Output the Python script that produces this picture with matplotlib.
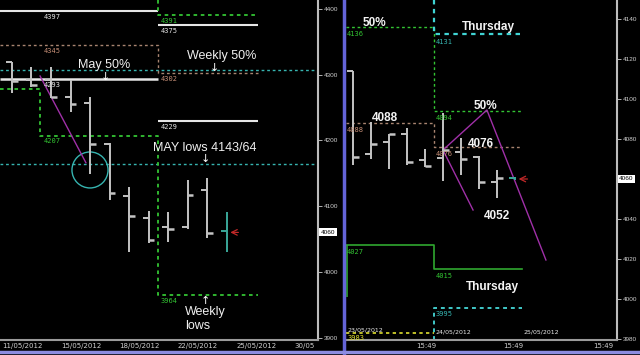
import matplotlib.pyplot as plt
from matplotlib.patches import Ellipse
from matplotlib.lines import Line2D

# ---- left panel: daily bars (SPI) ----
left_open = [4319, 4292, 4292, 4266, 4257, 4195, 4115, 4082, 4068, 4068, 4125, 4062]
left_high = [4319, 4312, 4312, 4292, 4266, 4196, 4129, 4093, 4091, 4140, 4143, 4091]
left_low = [4272, 4281, 4264, 4243, 4149, 4109, 4030, 4044, 4045, 4065, 4051, 4030]
left_close = [4290, 4284, 4266, 4255, 4195, 4120, 4085, 4048, 4065, 4117, 4059, 4060]
left_dates = ['11/05/2012', '15/05/2012', '18/05/2012', '22/05/2012', '25/05/2012', '30/05']
left_date_pos = [-0.5, 2.5, 5.5, 8.5, 11.5, 14.5]
left_yticks = [3900, 4000, 4100, 4200, 4300, 4400]

# weekly / monthly levels, left panel
left_week_start = 7.5
left_week_end = 12.6
left_prev_high, left_cur_high = 4397, 4375
left_green_high = 4391
left_brown = [4345, 4302]
left_prev_mid, left_cur_mid = 4293, 4229
left_green_low = [4278, 4207, 3964]
left_green_low_break = 1.44
left_teal = [4307, 4164]

# ---- right panel: intraday bars ----
right_open = [4114, 4072.5, 4078.5, 4082.5, 4069.5, 4070.5, 4073.5, 4071, 4058.5, 4060.5]
right_high = [4114, 4088.5, 4082.5, 4085.5, 4075, 4093, 4080.5, 4071.5, 4064.5, 4061]
right_low = [4067, 4070, 4065, 4067, 4066, 4059, 4062, 4055, 4050.5, 4059.5]
right_close = [4071, 4077.5, 4082.5, 4068.5, 4066.5, 4074.5, 4070, 4058.5, 4060.5, 4060]
right_yticks = [3980, 4000, 4020, 4040, 4060, 4080, 4100, 4120, 4140]
right_time_pos = [4.06, 8.9, 13.9]
right_time_labels = ['15:49', '15:49', '15:49']

right_day_start = 4.5
right_day_end = 9.39
right_green_high = [4136, 4094]
right_teal_high = 4131
right_brown = [4088, 4076]
right_green_low = [4027, 4015]
right_teal_low = 3995
right_yellow = 3983

# trend lines drawn by hand on the chart
left_trend_x = [1.44, 3.79]
left_trend_y = [4298, 4166]
right_trend1_x = [5.0, 7.44, 10.72]
right_trend1_y = [4074.5, 4094.5, 4019.5]
right_trend2_x = [5.0, 6.67]
right_trend2_y = [4074.5, 4044.5]

last_price = 4060

GREEN = '#33c433'
TEAL = '#36b4b0'
BROWN = '#a88470'
WHITE = '#e6e6e6'
BAR = '#c4c4c4'
CUR = '#3aa89a'
MAG = '#a030a8'


def draw_ohlc(ax, o, h, l, c, tick):
    n = len(o)
    for i in range(n):
        col = CUR if i == n - 1 else BAR
        ax.vlines(i, l[i], h[i], color=col, lw=1.4)
        ax.hlines(o[i], i - tick, i, color=col, lw=1.4)
        if i < n - 1:
            ax.hlines(c[i], i, i + tick, color=col, lw=1.8)


def step(ax, xs, ys, **kw):
    px, py = [], []
    for k in range(len(ys)):
        px += [xs[k], xs[k + 1]]
        py += [ys[k], ys[k]]
    ax.plot(px, py, **kw)


def style_axis(ax, yticks):
    ax.set_facecolor('black')
    for s in ['top', 'left']:
        ax.spines[s].set_visible(False)
    ax.spines['right'].set_color('#bdbdbd')
    ax.spines['bottom'].set_color('#9a9a9a')
    ax.spines['right'].set_linewidth(1.5)
    ax.spines['bottom'].set_linewidth(1.5)
    ax.yaxis.tick_right()
    ax.set_yticks(yticks)
    # the live price box covers the 4060 label
    ax.set_yticklabels(['' if t == last_price else str(t) for t in yticks],
                       family='Liberation Sans')
    ax.tick_params(axis='y', colors='#d0d0d0', labelsize=4.6, length=3, width=0.6, pad=1.5)
    ax.tick_params(axis='x', colors='#d0d0d0', labelsize=5, length=0, pad=2)


lbl = dict(family='DejaVu Sans Mono', fontsize=5)
txt = dict(family='Liberation Sans', fontsize=9, color='#f0f0f0')
btxt = dict(family='Liberation Sans', fontsize=8.5, color='#f4f4f4', fontweight='bold')
dots = (0, (2, 2))
pbox = dict(boxstyle='square,pad=0.25', fc='white', ec='none')

fig = plt.figure(figsize=(6.4, 3.55), dpi=100, facecolor='black')

# ================= left panel =================
ax1 = fig.add_axes([0, 15 / 355, 318 / 640, 340 / 355])
style_axis(ax1, left_yticks)
x0, x1 = -0.615, 15.69
ax1.set_xlim(x0, x1)
ax1.set_ylim(3896.2, 4413.7)
ax1.set_xticks(left_date_pos)
ax1.set_xticklabels(left_dates, ha='left')

ax1.hlines(left_teal, x0, x1, color=TEAL, lw=1, linestyles=dots)
ax1.hlines(left_prev_high, x0, left_week_start, color=WHITE, lw=1.5)
ax1.hlines(left_cur_high, left_week_start, left_week_end, color=WHITE, lw=1.5)
ax1.hlines(left_prev_mid, x0, left_week_start, color=WHITE, lw=1.8)
ax1.hlines(left_cur_mid, left_week_start, left_week_end, color=WHITE, lw=1.5)
ax1.plot([left_week_start, left_week_start, left_week_end],
         [4413.7, left_green_high, left_green_high], color=GREEN, lw=1.3, ls=dots)
step(ax1, [x0, left_week_start, left_week_end], left_brown, color=BROWN, lw=1, ls=dots)
step(ax1, [x0, left_green_low_break, left_week_start, left_week_end], left_green_low,
     color=GREEN, lw=1.3, ls=dots)

ax1.text(1.6, left_prev_high - 4, str(left_prev_high), color=WHITE, va='top', **lbl)
ax1.text(1.6, left_brown[0] - 4, str(left_brown[0]), color='#c89078', va='top', **lbl)
ax1.text(1.6, left_prev_mid - 4, str(left_prev_mid), color=WHITE, va='top', **lbl)
ax1.text(1.6, left_green_low[1] - 4, str(left_green_low[1]), color=GREEN, va='top', **lbl)
ax1.text(7.6, left_green_high - 4, str(left_green_high), color=GREEN, va='top', **lbl)
ax1.text(7.6, left_cur_high - 4, str(left_cur_high), color=WHITE, va='top', **lbl)
ax1.text(7.6, left_brown[1] - 4, str(left_brown[1]), color='#c89078', va='top', **lbl)
ax1.text(7.6, left_cur_mid - 4, str(left_cur_mid), color=WHITE, va='top', **lbl)
ax1.text(7.6, left_green_low[2] - 4, str(left_green_low[2]), color=GREEN, va='top', **lbl)

ax1.plot(left_trend_x, left_trend_y, color=MAG, lw=1)
ax1.add_patch(Ellipse((4.0, 4155), 1.85, 54.8, fill=False, ec=TEAL, lw=1))
draw_ohlc(ax1, left_open, left_high, left_low, left_close, 0.3)

ax1.text(4.72, 4315, 'May 50%', ha='center', va='center', **txt)
ax1.text(4.77, 4297, '↓', ha='center', va='center', color='white', fontsize=8)
ax1.text(10.77, 4328, 'Weekly 50%', ha='center', va='center', **txt)
ax1.text(10.4, 4311, '↓', ha='center', va='center', color='white', fontsize=8)
ax1.text(9.9, 4188, 'MAY lows 4143/64', ha='center', va='center', **txt)
ax1.text(9.9, 4171, '↓', ha='center', va='center', color='white', fontsize=8)
ax1.text(9.9, 3956, '↑', ha='center', va='center', color='white', fontsize=8)
ax1.text(8.87, 3939, 'Weekly', ha='left', va='center', **txt)
ax1.text(8.87, 3917, 'lows', ha='left', va='center', **txt)
ax1.annotate('', xy=(11.05, last_price), xytext=(11.75, last_price),
             arrowprops=dict(arrowstyle='->', color='#c02828', lw=0.9))
ax1.text(1.008, last_price, str(last_price), transform=ax1.get_yaxis_transform(),
         ha='left', va='center', fontsize=4.6, family='Liberation Sans', color='black',
         clip_on=False, bbox=pbox)

# ================= right panel =================
ax2 = fig.add_axes([346 / 640, 15 / 355, 271 / 640, 340 / 355])
style_axis(ax2, right_yticks)
r0, r1 = -0.39, 14.67
ax2.set_xlim(r0, r1)
ax2.set_ylim(3979.5, 4149.5)
ax2.set_xticks(right_time_pos)
ax2.set_xticklabels(right_time_labels)

step(ax2, [r0, right_day_start, right_day_end], right_green_high, color=GREEN, lw=1, ls=dots)
ax2.plot([right_day_start, right_day_start, right_day_end],
         [4149.5, right_teal_high + 1.5, right_teal_high + 1.5], color='#40d4d4', lw=1.6, ls=dots)
step(ax2, [r0, right_day_start, right_day_end], right_brown, color=BROWN, lw=1, ls=dots)
step(ax2, [r0, right_day_start, right_day_end], right_green_low, color='#2fa82f', lw=1.2)
ax2.vlines(r0 + 0.04, 4001, right_green_low[0], color='#2fa82f', lw=1.2)
ax2.plot([right_day_start, right_day_start, right_day_end],
         [3979.5, right_teal_low + 0.5, right_teal_low + 0.5], color='#40c8c8', lw=1.4, ls=dots)
ax2.hlines(right_yellow, r0, right_day_start, color='#e0e030', lw=1.2, linestyles=dots)

ax2.text(-0.33, right_green_high[0] - 2, str(right_green_high[0]), color=GREEN, va='top', **lbl)
ax2.text(-0.33, right_brown[0] - 2, str(right_brown[0]), color='#c89078', va='top', **lbl)
ax2.text(-0.33, right_green_low[0] - 2, str(right_green_low[0]), color=GREEN, va='top', **lbl)
ax2.text(4.6, right_teal_high - 1, str(right_teal_high), color=TEAL, va='top', **lbl)
ax2.text(4.6, right_green_high[1] - 2, str(right_green_high[1]), color=GREEN, va='top', **lbl)
ax2.text(4.6, right_brown[1] - 2, str(right_brown[1]), color='#c89078', va='top', **lbl)
ax2.text(4.6, right_green_low[1] - 2, str(right_green_low[1]), color=GREEN, va='top', **lbl)
ax2.text(4.6, right_teal_low - 1, str(right_teal_low), color=TEAL, va='top', **lbl)
ax2.text(-0.33, right_yellow - 1, str(right_yellow), color='#e0e030', va='top', **lbl)
ax2.text(-0.33, 3983.5, '23/05/2012', color='#e8e8e8', va='bottom', fontsize=4.5)
ax2.text(4.6, 3982, '24/05/2012', color='#e8e8e8', va='bottom', fontsize=4.5)
ax2.text(9.5, 3982, '25/05/2012', color='#e8e8e8', va='bottom', fontsize=4.5)

ax2.plot(right_trend1_x, right_trend1_y, color=MAG, lw=1)
ax2.plot(right_trend2_x, right_trend2_y, color=MAG, lw=1)
draw_ohlc(ax2, right_open, right_high, right_low, right_close, 0.33)

ax2.text(1.17, 4138, '50%', ha='center', va='center', **btxt)
ax2.text(6.06, 4136, 'Thursday', ha='left', va='center', **btxt)
ax2.text(1.06, 4090.5, '4088', ha='left', va='center', **btxt)
ax2.text(6.72, 4096.5, '50%', ha='left', va='center', **btxt)
ax2.text(6.39, 4077.5, '4076', ha='left', va='center', **btxt)
ax2.text(7.28, 4041.5, '4052', ha='left', va='center', **btxt)
ax2.text(6.28, 4006, 'Thursday', ha='left', va='center', **btxt)
ax2.annotate('', xy=(9.05, last_price), xytext=(9.85, last_price),
             arrowprops=dict(arrowstyle='->', color='#c02828', lw=0.9))
ax2.text(1.008, last_price, str(last_price), transform=ax2.get_yaxis_transform(),
         ha='left', va='center', fontsize=4.6, family='Liberation Sans', color='black',
         clip_on=False, bbox=pbox)

# window frame: blue divider and bottom strip
fig.add_artist(Line2D([343.5 / 640, 343.5 / 640], [0, 1], transform=fig.transFigure,
                      color='#6464d8', lw=2.5))
fig.add_artist(Line2D([0, 1], [3.5 / 355, 3.5 / 355], transform=fig.transFigure,
                      color='#8c8ce0', lw=2.5))

fig.savefig('out.png', dpi=100, facecolor='black')
